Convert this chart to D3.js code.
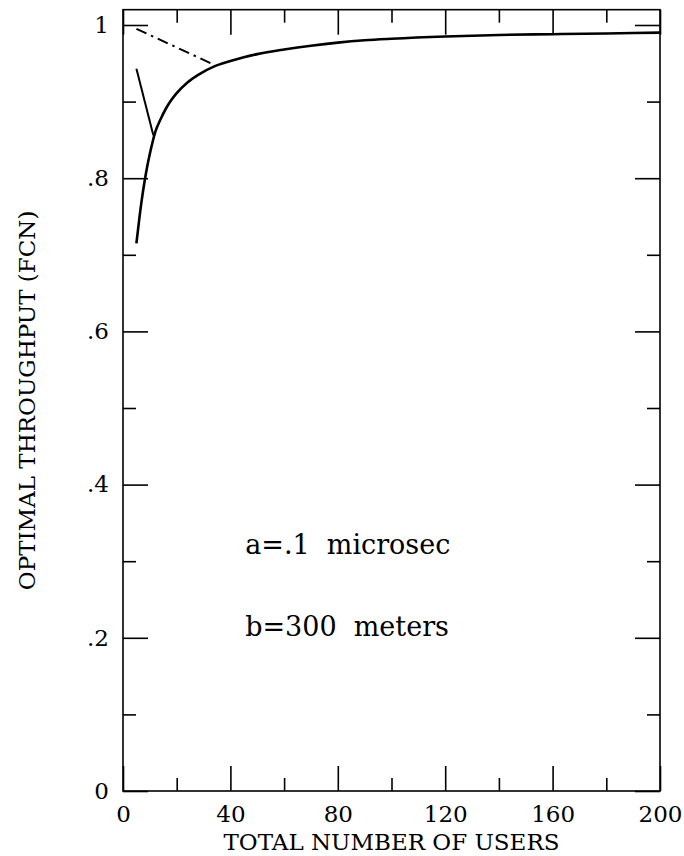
<!DOCTYPE html>
<html>
<head>
<meta charset="utf-8">
<script src="https://cdn.jsdelivr.net/npm/d3@7"></script>
<style>
    body { margin: 0; background: white; }
    text { font-family: "DejaVu Serif", serif; fill: black; }
</style>
</head>
<body>
<script>
// values
let users = [5, 6, 7, 8, 9, 10, 11, 12, 14, 16, 18, 20, 24, 28, 34, 40, 45, 50, 60, 70, 80, 90, 100, 120, 140, 160, 180, 200];
let throughput = [0.715, 0.745, 0.772, 0.795, 0.815, 0.832, 0.847, 0.860, 0.877, 0.891, 0.902, 0.911, 0.925, 0.935, 0.946, 0.953, 0.958, 0.962, 0.968, 0.973, 0.977, 0.980, 0.982, 0.985, 0.987, 0.988, 0.989, 0.990];

// short solid branch near the left edge
let branchUsers = [5, 11.3];
let branchValues = [0.943, 0.856];

// dash-dot branch at the top
let dashUsers = [5, 34];
let dashValues = [0.995, 0.948];

let xMajor = [0, 40, 80, 120, 160, 200];
let xMinor = [20, 60, 100, 140, 180];
let yMajor = [0, 0.2, 0.4, 0.6, 0.8, 1];
let yMinor = [0.1, 0.3, 0.5, 0.7, 0.9];

let notes = ["a=.1  microsec", "b=300  meters"];
let noteY = [0.31, 0.203];

function yLabel(d){
    if(d === 0) return "0";
    if(d === 1) return "1";
    return d3.format(".1f")(d).replace(/^0/, "");
}

function toPoints(xs, ys){
    return xs.map(function(x, i){
        return {x: x, y: ys[i]};
    });
}

function main(){
    let width = 684;
    let height = 856;

    let svg = d3.select("body").append("svg")
        .attr("width", width)
        .attr("height", height);

    let xScale = d3.scaleLinear().domain([0, 200]).range([123, 660]);
    let yScale = d3.scaleLinear().domain([0, 1]).range([791, 25]);
    let yTop = yScale(1.02);

    let major = 25;
    let minor = 13;

    // frame
    svg.append("rect")
        .attr("x", xScale(0))
        .attr("y", yTop)
        .attr("width", xScale(200) - xScale(0))
        .attr("height", yScale(0) - yTop)
        .attr("fill", "none")
        .attr("stroke", "black")
        .attr("stroke-width", 1.6);

    // bottom axis, ticks pointing in
    let bottom = svg.append("g")
        .attr("transform", "translate(0," + yScale(0) + ")")
        .call(d3.axisBottom(xScale).tickValues(xMajor).tickSize(-major).tickPadding(15).tickFormat(d3.format("d")));
    bottom.append("g")
        .call(d3.axisBottom(xScale).tickValues(xMinor).tickSize(-minor).tickFormat(""));

    // top axis
    let top = svg.append("g")
        .attr("transform", "translate(0," + yTop + ")")
        .call(d3.axisTop(xScale).tickValues(xMajor).tickSize(-major).tickFormat(""));
    top.append("g")
        .call(d3.axisTop(xScale).tickValues(xMinor).tickSize(-minor).tickFormat(""));

    // left axis
    let left = svg.append("g")
        .attr("transform", "translate(" + xScale(0) + ",0)")
        .call(d3.axisLeft(yScale).tickValues(yMajor).tickSize(-major).tickPadding(14).tickFormat(yLabel));
    left.append("g")
        .call(d3.axisLeft(yScale).tickValues(yMinor).tickSize(-minor).tickFormat(""));

    // right axis
    let right = svg.append("g")
        .attr("transform", "translate(" + xScale(200) + ",0)")
        .call(d3.axisRight(yScale).tickValues(yMajor).tickSize(-major).tickFormat(""));
    right.append("g")
        .call(d3.axisRight(yScale).tickValues(yMinor).tickSize(-minor).tickFormat(""));

    svg.selectAll(".domain").remove();
    svg.selectAll(".tick line")
        .attr("stroke", "black")
        .attr("stroke-width", 1.6);
    svg.selectAll(".tick text")
        .style("font-family", "DejaVu Serif")
        .attr("font-size", 23)
        .attr("fill", "black");

    let line = d3.line()
        .x(function(d){ return xScale(d.x); })
        .y(function(d){ return yScale(d.y); })
        .curve(d3.curveMonotoneX);

    svg.append("path")
        .datum(toPoints(users, throughput))
        .attr("d", line)
        .attr("fill", "none")
        .attr("stroke", "black")
        .attr("stroke-width", 2.6);

    svg.append("path")
        .datum(toPoints(branchUsers, branchValues))
        .attr("d", line)
        .attr("fill", "none")
        .attr("stroke", "black")
        .attr("stroke-width", 2);

    svg.append("path")
        .datum(toPoints(dashUsers, dashValues))
        .attr("d", line)
        .attr("fill", "none")
        .attr("stroke", "black")
        .attr("stroke-width", 2)
        .attr("stroke-dasharray", "11,5,2.5,5");

    // axis titles
    svg.append("text")
        .attr("x", (xScale(0) + xScale(200)) / 2)
        .attr("y", 850)
        .attr("text-anchor", "middle")
        .attr("font-size", 23)
        .text("TOTAL NUMBER OF USERS");

    svg.append("text")
        .attr("transform", "translate(35," + (yTop + yScale(0)) / 2 + ") rotate(-90)")
        .attr("text-anchor", "middle")
        .attr("font-size", 23)
        .text("OPTIMAL THROUGHPUT (FCN)");

    // parameter notes
    svg.selectAll(".note")
        .data(notes)
        .enter()
        .append("text")
        .attr("class", "note")
        .attr("x", xScale(45.5))
        .attr("y", function(d, i){ return yScale(noteY[i]); })
        .attr("font-size", 27)
        .style("white-space", "pre")
        .text(function(d){ return d; });
}

main();
</script>
</body>
</html>
